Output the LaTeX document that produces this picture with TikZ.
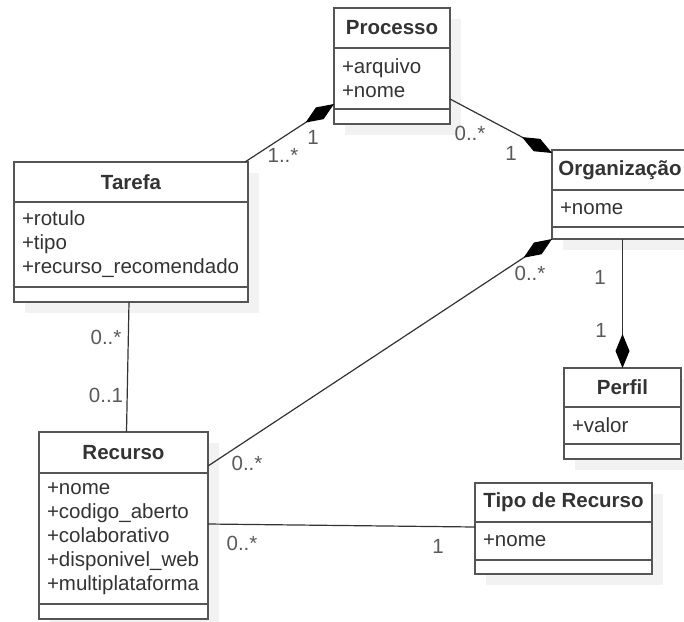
\documentclass[tikz,border=0pt]{standalone}
\usepackage{fontspec}
\setmainfont{Liberation Sans}
\usetikzlibrary{positioning,arrows.meta,shadows}
\definecolor{txt}{HTML}{333333}
\definecolor{edge}{HTML}{555555}

\begin{document}
\begin{tikzpicture}[x=1pt,y=-1pt,
  every node/.style={font=\fontsize{20.5}{24}\selectfont, text=txt},
  part/.style={draw=edge, fill=white, line width=1.2pt, inner sep=0pt, outer sep=0pt,
    general shadow={fill=black!5, shadow xshift=11pt, shadow yshift=-11pt}},
  head/.style={part, font=\fontsize{20.5}{24}\selectfont\bfseries, minimum height=40pt, anchor=north west},
  attrs/.style={part, align=left, inner xsep=8pt},
  ops/.style={part},
  mult/.style={text=black!65},
  assoc/.style={draw=txt, line width=1.2pt},
  comp/.style={assoc, -{Diamond[length=34pt,width=14pt,color=black]}}]
\clip (0,0) rectangle (684,621);

% Processo
\node[head, minimum width=116pt] (procT) at (334,8) {Processo};
\node[attrs, below=0pt of procT, text width=100pt, minimum height=61pt] (procA) {+arquivo\\+nome};
\node[ops, below=0pt of procA, minimum width=116pt, minimum height=15pt] (procM) {};

% Organizacao
\node[head, minimum width=136pt] (orgT) at (552,150) {Organização};
\node[attrs, below=0pt of orgT, text width=120pt, minimum height=37pt] (orgA) {+nome};
\node[ops, below=0pt of orgA, minimum width=136pt, minimum height=12pt] (orgM) {};

% Perfil
\node[head, minimum width=117pt, minimum height=39pt] (perT) at (564,368) {Perfil};
\node[attrs, below=0pt of perT, text width=101pt, minimum height=37pt] (perA) {+valor};
\node[ops, below=0pt of perA, minimum width=117pt, minimum height=15pt] (perM) {};

% Tarefa
\node[head, minimum width=234pt] (tarT) at (14,162) {Tarefa};
\node[attrs, below=0pt of tarT, text width=218pt, minimum height=85pt] (tarA) {+rotulo\\+tipo\\+recurso\_recomendado};
\node[ops, below=0pt of tarA, minimum width=234pt, minimum height=15pt] (tarM) {};

% Recurso
\node[head, minimum width=169pt, minimum height=41pt] (recT) at (39,432) {Recurso};
\node[attrs, below=0pt of recT, text width=153pt, minimum height=131pt] (recA) {+nome\\+codigo\_aberto\\+colaborativo\\+disponivel\_web\\+multiplataforma};
\node[ops, below=0pt of recA, minimum width=169pt, minimum height=15pt] (recM) {};

% Tipo de Recurso
\node[head, minimum width=177pt, minimum height=39pt] (tipoT) at (475,483) {Tipo de Recurso};
\node[attrs, below=0pt of tipoT, text width=161pt, minimum height=38pt] (tipoA) {+nome};
\node[ops, below=0pt of tipoA, minimum width=177pt, minimum height=14pt] (tipoM) {};

% associations
\draw[comp] ([xshift=-3pt]tarT.north east) -- ([yshift=5pt]procA.south west);
\draw[comp] ([yshift=10pt]procA.south east) -- ([yshift=-3pt]orgT.north west);
\draw[comp] ([yshift=7pt]recT.south east) -- (orgM.south west);
\draw[comp] (perT.north |- orgM.south) -- (perT.north);
\draw[assoc] ([xshift=-2pt]tarM.south) -- ([xshift=3pt]recT.north);
\draw[assoc] ([yshift=-51pt]recA.north east) -- ([yshift=-5pt]tipoA.north west);

% multiplicities
\node[mult] (m1) at (313,137) {1};
\node[mult] (m2) at (283,155) {1..*};
\node[mult] (m3) at (470,133) {0..*};
\node[mult] (m4) at (511,153) {1};
\node[mult] (m5) at (600,277) {1};
\node[mult] (m6) at (601,330) {1};
\node[mult] (m7) at (530,273) {0..*};
\node[mult] (m8) at (247,463) {0..*};
\node[mult] (m9) at (106,337) {0..*};
\node[mult] (m10) at (106,395) {0..1};
\node[mult] (m11) at (242,543) {0..*};
\node[mult] (m12) at (438,546) {1};
\end{tikzpicture}
\end{document}
